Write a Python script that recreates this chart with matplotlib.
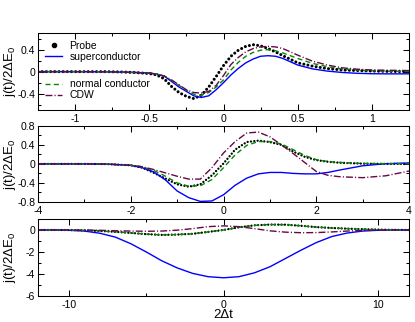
import matplotlib
matplotlib.use("Agg")
import matplotlib.pyplot as plt
from matplotlib.ticker import MultipleLocator, FuncFormatter
from matplotlib.lines import Line2D

plt.rcParams['font.family'] = ['Liberation Sans', 'DejaVu Sans']
plt.rcParams['mathtext.fontset'] = 'custom'
plt.rcParams['mathtext.rm'] = 'Liberation Sans'
plt.rcParams['mathtext.it'] = 'Liberation Sans:italic'
plt.rcParams['lines.scale_dashes'] = False

# ---- panel 1: short pulse ----
x1 = [-1.25, -1.0, -0.8, -0.7, -0.6, -0.5, -0.45, -0.4, -0.35, -0.3, -0.25,
      -0.2, -0.15, -0.1, -0.05, 0.0, 0.05, 0.1, 0.15, 0.2, 0.25, 0.3, 0.35,
      0.4, 0.5, 0.6, 0.7, 0.8, 0.9, 1.0, 1.1, 1.25]
probe1 = [0, 0, 0, -0.005, -0.015, -0.035, -0.06, -0.13, -0.27, -0.38, -0.45,
          -0.49, -0.43, -0.28, -0.09, 0.11, 0.28, 0.39, 0.46, 0.49, 0.47, 0.42,
          0.36, 0.29, 0.16, 0.1, 0.055, 0.03, 0.02, 0.01, 0.005, 0]
sc1 = [0, 0, -0.003, -0.008, -0.015, -0.025, -0.045, -0.08, -0.18, -0.28,
       -0.36, -0.44, -0.47, -0.44, -0.33, -0.2, -0.06, 0.06, 0.16, 0.23, 0.28,
       0.29, 0.28, 0.24, 0.12, 0.05, 0.01, -0.015, -0.03, -0.038, -0.04, -0.04]
nc1 = [0, 0, -0.003, -0.008, -0.015, -0.025, -0.045, -0.08, -0.16, -0.25,
       -0.34, -0.41, -0.43, -0.38, -0.28, -0.15, 0.03, 0.17, 0.28, 0.35, 0.39,
       0.4, 0.38, 0.34, 0.24, 0.15, 0.09, 0.05, 0.03, 0.015, 0.008, 0.003]
cdw1 = [0, 0, -0.003, -0.008, -0.015, -0.025, -0.045, -0.08, -0.15, -0.24,
        -0.33, -0.38, -0.39, -0.36, -0.25, -0.07, 0.13, 0.26, 0.36, 0.42, 0.45,
        0.46, 0.45, 0.42, 0.3, 0.19, 0.12, 0.07, 0.045, 0.03, 0.025, 0.02]

# ---- panel 2: medium pulse ----
x2 = [-4.0, -3.0, -2.5, -2.0, -1.75, -1.5, -1.25, -1.0, -0.75, -0.5, -0.25,
      0.0, 0.25, 0.5, 0.75, 1.0, 1.25, 1.5, 1.75, 2.0, 2.25, 2.5, 3.0, 3.5, 4.0]
probe2 = [0, 0, -0.005, -0.03, -0.08, -0.19, -0.31, -0.43, -0.48, -0.43,
          -0.24, 0.01, 0.3, 0.46, 0.49, 0.46, 0.4, 0.26, 0.15, 0.08, 0.045,
          0.025, 0.005, 0, 0]
sc2 = [0, 0, -0.005, -0.03, -0.08, -0.17, -0.34, -0.57, -0.71, -0.79, -0.78,
       -0.65, -0.45, -0.3, -0.21, -0.18, -0.18, -0.2, -0.21, -0.21, -0.18,
       -0.13, -0.04, 0.005, 0.02]
nc2 = [0, 0, -0.005, -0.03, -0.06, -0.14, -0.26, -0.4, -0.47, -0.46, -0.33,
       -0.08, 0.19, 0.39, 0.47, 0.47, 0.42, 0.3, 0.18, 0.09, 0.05, 0.03, 0.01,
       0.005, 0]
cdw2 = [0, 0, -0.005, -0.03, -0.06, -0.12, -0.19, -0.26, -0.32, -0.32,
        -0.08, 0.23, 0.47, 0.65, 0.67, 0.57, 0.4, 0.22, 0.03, -0.16, -0.24,
        -0.27, -0.29, -0.25, -0.15]

# ---- panel 3: long pulse ----
x3 = [-12, -11, -10, -9, -8, -7, -6, -5, -4, -3, -2, -1, 0, 1, 2, 3, 4, 5, 6,
      7, 8, 9, 10, 11, 12]
probe3 = [0, 0, -0.01, -0.04, -0.09, -0.17, -0.27, -0.38, -0.45, -0.42,
          -0.35, -0.18, 0, 0.24, 0.42, 0.49, 0.48, 0.38, 0.26, 0.18, 0.12,
          0.07, 0.03, 0.01, 0]
sc3 = [0, 0, -0.03, -0.1, -0.3, -0.65, -1.25, -2.0, -2.8, -3.45, -3.95,
       -4.25, -4.35, -4.25, -3.9, -3.35, -2.6, -1.85, -1.15, -0.6, -0.28,
       -0.1, -0.03, 0, 0]
nc3 = [0, 0, -0.01, -0.04, -0.09, -0.17, -0.27, -0.38, -0.45, -0.42, -0.35,
       -0.18, 0, 0.24, 0.42, 0.49, 0.48, 0.38, 0.26, 0.18, 0.12, 0.07, 0.03,
       0.01, 0]
cdw3 = [0, 0, 0, -0.01, -0.03, -0.07, -0.1, -0.12, -0.1, -0.02, 0.12, 0.3,
        0.37, 0.3, 0.12, -0.08, -0.2, -0.25, -0.24, -0.18, -0.1, -0.05, -0.02,
        0, 0]

labels = ["Probe", "superconductor", "normal conductor", "CDW"]

BLUE = "#0000ff"
GREEN = "#008b00"
MAROON = "#670748"


def fmt(v, pos):
    if abs(v) < 1e-9:
        return "0"
    return "%g" % v


def style_axes(ax, xlim, ylim, xmaj, xmin, ymaj, ymin):
    ax.set_xlim(*xlim)
    ax.set_ylim(*ylim)
    ax.xaxis.set_major_locator(MultipleLocator(xmaj))
    ax.xaxis.set_minor_locator(MultipleLocator(xmin))
    ax.yaxis.set_major_locator(MultipleLocator(ymaj))
    ax.yaxis.set_minor_locator(MultipleLocator(ymin))
    ax.xaxis.set_major_formatter(FuncFormatter(fmt))
    ax.yaxis.set_major_formatter(FuncFormatter(fmt))
    ax.tick_params(which="both", direction="in", top=True, right=True,
                   width=0.75, labelsize=7.6)
    ax.tick_params(which="major", length=4.3)
    ax.tick_params(which="minor", length=2.4)
    ax.tick_params(axis="x", pad=3)
    ax.tick_params(axis="y", pad=2)
    for s in ax.spines.values():
        s.set_linewidth(0.75)
    ax.set_ylabel("j(t)/2ΔE$_0$", fontsize=9.5)
    ax.yaxis.set_label_coords(-0.054, 0.5)


def draw(ax, x, probe, sc, nc, cdw, dot_lw, dot_gap):
    ax.plot(x, probe, color="k", lw=dot_lw, linestyle=(0, (0.01, dot_gap)),
            dash_capstyle="round")
    ax.plot(x, sc, color=BLUE, lw=1.0)
    ax.plot(x, nc, color=GREEN, lw=1.0, linestyle=(0, (3.6, 2.4)))
    ax.plot(x, cdw, color=MAROON, lw=1.0,
            linestyle=(0, (5.0, 1.5, 0.8, 1.5)))


fig = plt.figure(figsize=(4.15, 3.22), dpi=100)
ax1 = fig.add_axes([0.0916, 0.658, 0.894, 0.239])
ax2 = fig.add_axes([0.0916, 0.373, 0.894, 0.236])
ax3 = fig.add_axes([0.0916, 0.081, 0.894, 0.239])

draw(ax1, x1, probe1, sc1, nc1, cdw1, 2.2, 3.0)
draw(ax2, x2, probe2, sc2, nc2, cdw2, 1.7, 2.4)
draw(ax3, x3, probe3, sc3, nc3, cdw3, 1.7, 2.4)

style_axes(ax1, (-1.25, 1.25), (-0.7, 0.7), 0.5, 0.25, 0.4, 0.2)
style_axes(ax2, (-4, 4), (-0.8, 0.8), 2, 1, 0.4, 0.2)
style_axes(ax3, (-12, 12), (-6, 1), 10, 5, 2, 1)

ax3.set_xlabel("2Δt", fontsize=9.5)
ax3.xaxis.set_label_coords(0.5, -0.175)

# legends: probe + superconductor on top, the other two below
h_probe = Line2D([], [], color="k", marker="o", ls="none", ms=3.0)
h_sc = Line2D([], [], color=BLUE, lw=1.0)
h_nc = Line2D([], [], color=GREEN, lw=1.0, linestyle=(0, (3.6, 2.4)))
h_cdw = Line2D([], [], color=MAROON, lw=1.0,
               linestyle=(0, (5.0, 1.5, 0.8, 1.5)))
leg_kw = dict(loc="upper left", frameon=False, borderpad=0, borderaxespad=0,
              handlelength=1.65, handletextpad=0.7, labelspacing=0.1,
              fontsize=7.5)
leg1 = ax1.legend([h_probe, h_sc], labels[:2], bbox_to_anchor=(0.019, 0.9),
                  **leg_kw)
ax1.add_artist(leg1)
ax1.legend([h_nc, h_cdw], labels[2:], bbox_to_anchor=(0.019, 0.4), **leg_kw)

fig.savefig("out.png", dpi=100)
